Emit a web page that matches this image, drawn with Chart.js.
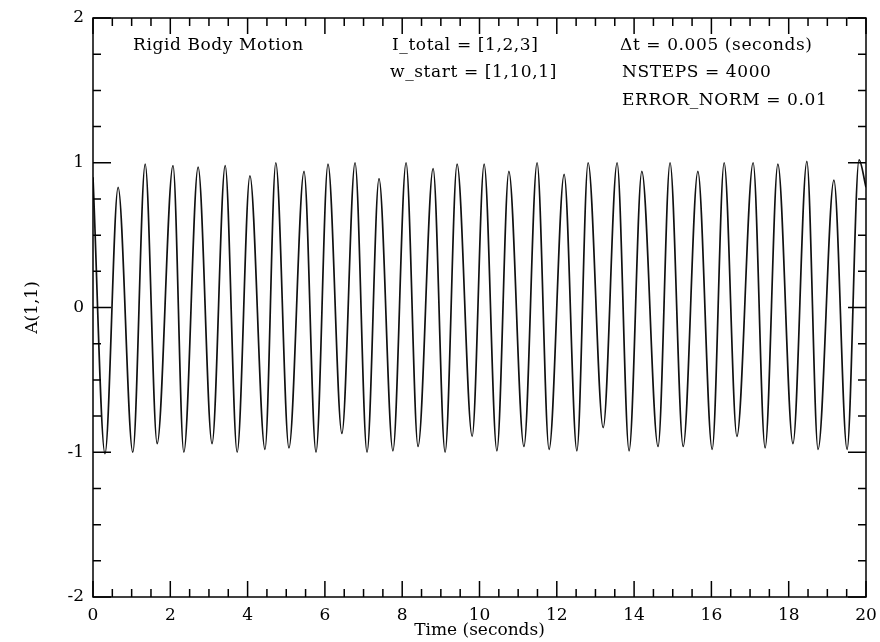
<!DOCTYPE html>
<html>
<head>
<meta charset="utf-8">
<script src="https://cdn.jsdelivr.net/npm/chart.js@4.4.1/dist/chart.umd.min.js"></script>
<style>
  html, body { margin: 0; padding: 0; background: #fff; }
</style>
</head>
<body>
<canvas id="c" width="880" height="642"></canvas>
<script>
const times = [
  0.00, 0.31, 0.65, 1.03, 1.35, 1.66, 2.07, 2.35, 2.72, 3.08,
  3.42, 3.73, 4.06, 4.45, 4.73, 5.07, 5.46, 5.77, 6.08, 6.44,
  6.78, 7.09, 7.40, 7.76, 8.10, 8.41, 8.80, 9.11, 9.42, 9.81,
  10.12, 10.45, 10.76, 11.15, 11.49, 11.80, 12.19, 12.52, 12.81, 13.20,
  13.56, 13.87, 14.20, 14.62, 14.93, 15.27, 15.65, 16.02, 16.33, 16.66,
  17.08, 17.39, 17.72, 18.11, 18.47, 18.76, 19.17, 19.51, 19.82, 20.00
]
const a11 = [
  0.90, -1.01, 0.83, -1.00, 0.99, -0.94, 0.98, -1.00, 0.97, -0.94,
  0.98, -1.00, 0.91, -0.98, 1.00, -0.97, 0.94, -1.00, 0.99, -0.87,
  1.00, -1.00, 0.89, -0.99, 1.00, -0.96, 0.96, -1.00, 0.99, -0.89,
  0.99, -0.99, 0.94, -0.96, 1.00, -0.98, 0.92, -0.99, 1.00, -0.83,
  1.00, -0.99, 0.94, -0.96, 1.00, -0.96, 0.94, -0.98, 1.00, -0.89,
  1.00, -0.97, 0.99, -0.94, 1.01, -0.98, 0.88, -0.98, 1.02, 0.83
]
const xTicks = [0, 2, 4, 6, 8, 10, 12, 14, 16, 18, 20]
const yTicks = [-2, -1, 0, 1, 2]
const notes = [
  "Rigid Body Motion",
  "I_total = [1,2,3]",
  "w_start = [1,10,1]",
  "\u0394t = 0.005 (seconds)",
  "NSTEPS = 4000",
  "ERROR_NORM = 0.01"
]

const FONT = "'DejaVu Serif', serif"
const font = { family: FONT, size: 17 }

// boxed frame with inward ticks on all four sides, plus the text block
const frame = {
  id: "frame",
  afterDatasetsDraw(chart) {
    const { ctx, chartArea: a, scales: { x, y } } = chart
    ctx.save()
    ctx.strokeStyle = "#000"
    ctx.lineWidth = 1.5
    ctx.strokeRect(a.left, a.top, a.right - a.left, a.bottom - a.top)
    ctx.beginPath()
    for (let i = 0; i <= 40; i++) {
      const px = x.getPixelForValue(i * 0.5)
      const len = i % 4 === 0 ? 16 : 8
      ctx.moveTo(px, a.bottom); ctx.lineTo(px, a.bottom - len)
      ctx.moveTo(px, a.top); ctx.lineTo(px, a.top + len)
    }
    for (let i = 0; i <= 16; i++) {
      const py = y.getPixelForValue(-2 + i * 0.25)
      const len = i % 4 === 0 ? 18 : 8
      ctx.moveTo(a.left, py); ctx.lineTo(a.left + len, py)
      ctx.moveTo(a.right, py); ctx.lineTo(a.right - len, py)
    }
    ctx.stroke()

    ctx.fillStyle = "#000"
    ctx.font = "17px " + FONT
    ctx.letterSpacing = "0.6px"
    ctx.textBaseline = "middle"
    const spots = [[133, 46], [392, 46], [390, 73], [620, 46], [622, 73], [622, 101]]
    notes.forEach((t, i) => ctx.fillText(t, spots[i][0], spots[i][1]))
    ctx.restore()
  }
}

new Chart(document.getElementById("c"), {
  type: "scatter",
  data: {
    datasets: [{
      data: times.map((t, i) => ({ x: t, y: a11[i] })),
      showLine: true,
      borderColor: "#111",
      borderWidth: 1.7,
      pointRadius: 0,
      cubicInterpolationMode: "monotone"
    }]
  },
  options: {
    responsive: false,
    animation: false,
    devicePixelRatio: 1,
    layout: { padding: { top: 18, right: 14, left: 0, bottom: 0 } },
    plugins: { legend: { display: false }, tooltip: { enabled: false } },
    scales: {
      x: {
        type: "linear", min: 0, max: 20,
        afterBuildTicks: s => { s.ticks = xTicks.map(v => ({ value: v })) },
        ticks: { font, color: "#000", padding: 8, maxRotation: 0 },
        grid: { display: false, drawTicks: false },
        border: { display: false },
        title: { display: true, text: "Time (seconds)", font, color: "#000", padding: { top: 0, bottom: 1 } },
        afterFit: s => { s.height = 45; s.paddingLeft = 0; s.paddingRight = 0 }
      },
      y: {
        type: "linear", min: -2, max: 2,
        afterBuildTicks: s => { s.ticks = yTicks.map(v => ({ value: v })) },
        ticks: { font, color: "#000", padding: 9 },
        grid: { display: false, drawTicks: false },
        border: { display: false },
        title: { display: true, text: "A(1,1)", font, color: "#000", padding: { top: 22, bottom: 0 } },
        afterFit: s => { s.width = 93; s.paddingTop = 0; s.paddingBottom = 0 }
      }
    }
  },
  plugins: [frame]
})
</script>
</body>
</html>
